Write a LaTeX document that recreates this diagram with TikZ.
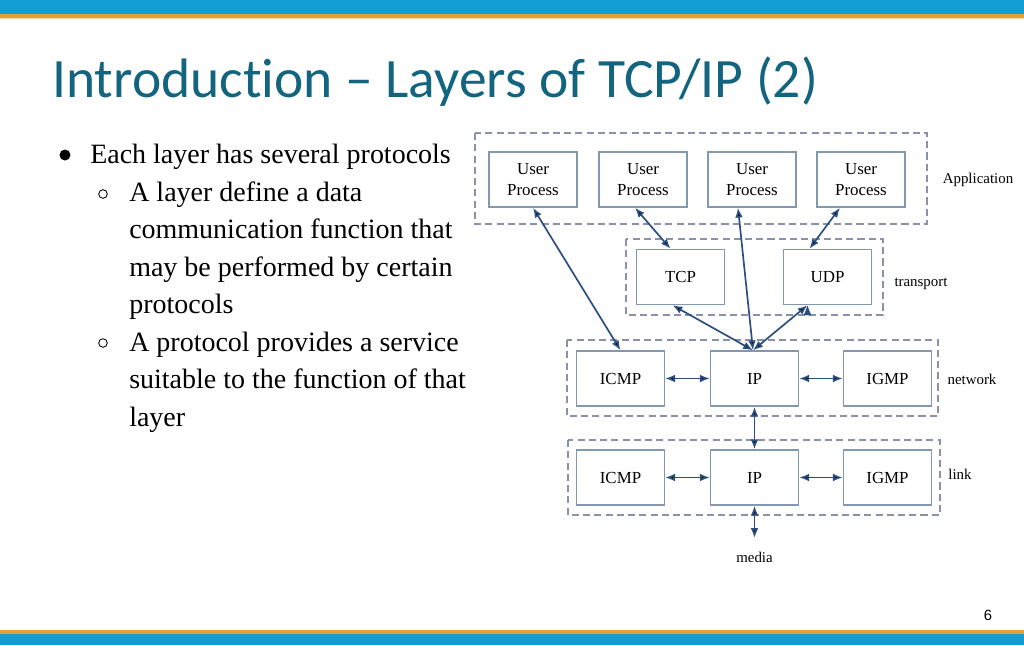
\documentclass[tikz,border=0pt]{standalone}
\usepackage{fontspec}
\setmainfont{Liberation Serif}
\newfontfamily\titlefont[Ligatures={TeX,NoCommon}]{Carlito}
\newfontfamily\numfont{Liberation Sans}
\usepackage{xcolor}
\usetikzlibrary{arrows.meta,calc}
\definecolor{barblue}{HTML}{129ED3}
\definecolor{barorange}{HTML}{E3A234}
\definecolor{titleteal}{HTML}{13647F}
\definecolor{linkblue}{HTML}{2B4F81}
\definecolor{boxgrey}{HTML}{8497B0}
\definecolor{dashgrey}{HTML}{8C90A8}
\tikzset{
	proto/.style={draw=boxgrey,line width=1pt,minimum width=2.2cm,minimum height=1.375cm,
		align=center,inner sep=0pt,font=\fontsize{12}{15}\selectfont},
	layer/.style={draw=dashgrey,line width=1pt,dash pattern=on 5pt off 3pt},
	lbl/.style={font=\fontsize{10.6}{12}\selectfont},
	txt/.style={anchor=base west,inner sep=0pt,font=\fontsize{19.9}{26}\selectfont}
}
\begin{document}
\begin{tikzpicture}[x=0.025cm,y=-0.025cm]
		\useasboundingbox (0,0) rectangle (1024,645);
		% bars
		\fill[barblue] (0,0) rectangle (1024,14);
		\fill[barorange] (0,14) rectangle (1024,18);
		\fill[barorange!40] (0,18) rectangle (1024,19);
		\fill[barorange] (0,630) rectangle (1024,634);
		\fill[barblue] (0,634) rectangle (1024,645);
		%
		\node[anchor=base west,inner sep=0pt,text=titleteal,font=\titlefont\fontsize{39.5}{42}\selectfont]
			(title) at (52,97) {Introduction – Layers of TCP/IP (2)};
		%
		\fill (65,155) circle (5.5);
		\draw[line width=0.6pt] (103,194) circle (4.3);
		\draw[line width=0.6pt] (103,343) circle (4.3);
		\node[txt] (b1) at (90,163) {Each layer has several protocols};
		\foreach \y/\t in {201/A layer define a data,238/communication function that,
			276/may be performed by certain,313/protocols,351/A protocol provides a service,
			388/suitable to the function of that,426/layer}
			\node[txt] at (129,\y) {\t};
		%
		\draw[layer] (475,133) rectangle (927,224);
		\draw[layer] (626,239) rectangle (883,315);
		\draw[layer] (567,340) rectangle (938,416);
		\draw[layer] (568,440) rectangle (940,515);
		%
		\node[proto] (U1) at (533,179.5) {User\\Process};
		\node[proto] (U2) at (643,179.5) {User\\Process};
		\node[proto] (U3) at (752,179.5) {User\\Process};
		\node[proto] (U4) at (861,179.5) {User\\Process};
		\node[proto] (TCP) at (680.5,277) {TCP};
		\node[proto] (UDP) at (827.5,277) {UDP};
		\node[proto] (ICMPn) at (620.5,378.5) {ICMP};
		\node[proto] (IPn) at (754.5,378.5) {IP};
		\node[proto] (IGMPn) at (887.5,378.5) {IGMP};
		\node[proto] (ICMPl) at (620.5,477.5) {ICMP};
		\node[proto] (IPl) at (754.5,477.5) {IP};
		\node[proto] (IGMPl) at (887.5,477.5) {IGMP};
		\coordinate (media) at (754.5,538);
		%
		\node[lbl] (app) at (978,180) {Application};
		\node[lbl] (trans) at (921,284) {transport};
		\node[lbl] (net) at (972,379) {network};
		\node[lbl] (lnk) at (960,474) {link};
		\node[lbl] (med) at (754.5,557) {media};
		%
		\path[{Latex[length=7pt,width=5.5pt]}-{Latex[length=7pt,width=5.5pt]},draw=linkblue,line width=1.2pt]
		(U1.south) edge (ICMPn.north)
		($(U2.south)+(-8,0)$) edge ($(TCP.north)+(-10,0)$)
		($(U3.south)+(-14,0)$) edge ($(IPn.north)+(-1.5,0)$)
		($(U4.south)+(-21,0)$) edge ($(UDP.north)+(-18,0)$)
		($(TCP.south)+(-8,0)$) edge ($(IPn.north)+(-1.5,0)$)
		($(UDP.south)+(-20,0)$) edge ($(IPn.north)+(-1.5,0)$)
		(ICMPn) edge (IPn)
		(IPn) edge (IGMPn)
		(ICMPl) edge (IPl)
		(IPl) edge (IGMPl)
		(IPn) edge (IPl)
		(IPl) edge (media);
		%
		\node[font=\numfont\fontsize{10.5}{12}\selectfont] (page) at (988,615) {6};
	\end{tikzpicture}
\end{document}
